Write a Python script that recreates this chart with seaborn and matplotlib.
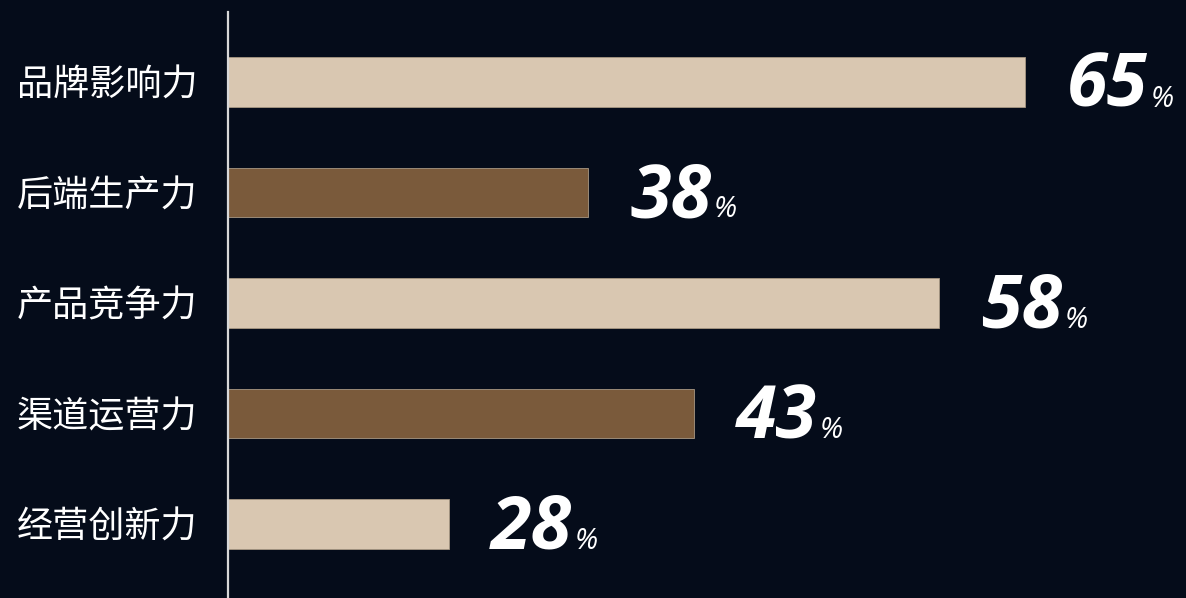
import matplotlib
matplotlib.use("Agg")
import matplotlib.pyplot as plt
import seaborn as sns
import pandas as pd
from matplotlib.transforms import offset_copy

categories = ["品牌影响力", "后端生产力", "产品竞争力", "渠道运营力", "经营创新力"]
bar_lengths = [65, 29.4, 58, 38, 18]      # drawn bar lengths
pct_labels = ["65", "38", "58", "43", "28"]  # printed percentages
bar_colors = ["#d9c7b1", "#7a5a3b", "#d9c7b1", "#7a5a3b", "#d9c7b1"]

BG = "#050c1a"

sns.set_theme(style="white")
plt.rcParams["font.family"] = ["Noto Sans CJK SC", "DejaVu Sans"]

fig = plt.figure(figsize=(11.86, 5.98), dpi=100, facecolor=BG)
ax = fig.add_axes([228 / 1186, 0, 1 - 228 / 1186, (598 - 12) / 598])
ax.set_facecolor(BG)

df = pd.DataFrame({"cat": categories, "val": bar_lengths})
sns.barplot(data=df, x="val", y="cat", hue="cat", palette=bar_colors,
            orient="h", width=0.45, legend=False, ax=ax, saturation=1,
            edgecolor="#a89884", linewidth=0.6)

ax.set_xlim(0, 958 / 12.26)
ax.set_ylim(4.67, -0.633)
ax.set_xlabel("")
ax.set_ylabel("")
ax.set_xticks([])
for s in ["top", "right", "bottom"]:
    ax.spines[s].set_visible(False)
ax.spines["left"].set_color("#d8d8d8")
ax.spines["left"].set_linewidth(1.6)
ax.tick_params(axis="y", length=0, pad=22, labelsize=26, labelcolor="white")
for t in ax.get_yticklabels():
    t.set_fontfamily(["Noto Sans CJK SC", "DejaVu Sans"])

NUM_FONT = ["Open Sans", "DejaVu Sans"]
fig.canvas.draw()
renderer = fig.canvas.get_renderer()
for i, (v, lab) in enumerate(zip(bar_lengths, pct_labels)):
    y = i + 0.225
    tr = offset_copy(ax.transData, fig=fig, x=30, y=0, units="points")
    t = ax.text(v, y, lab, transform=tr, ha="left", va="baseline",
                fontsize=53, fontweight="bold", fontstyle="italic",
                family=NUM_FONT, color="white")
    bb = t.get_window_extent(renderer=renderer)
    ax.text(bb.x1 + 3, ax.transData.transform((0, y))[1], "%",
            transform=None, ha="left", va="baseline",
            fontsize=21, fontstyle="italic",
            family=NUM_FONT, color="white")

fig.savefig("out.png", dpi=100, facecolor=BG)
